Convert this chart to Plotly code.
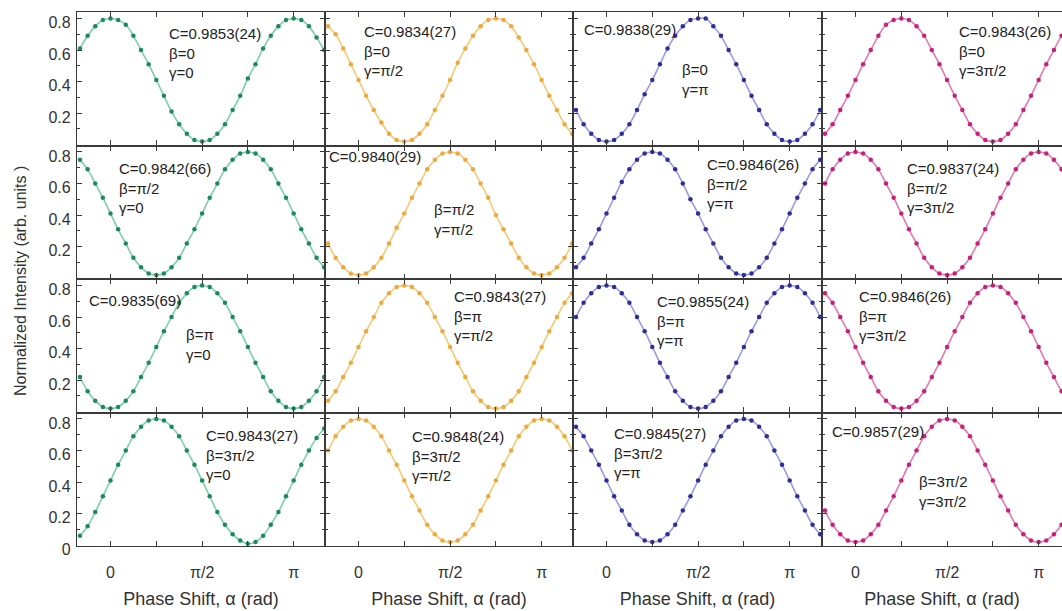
import numpy as np
import plotly.graph_objects as go

# ---------------- data ----------------
alpha_deg = [-30, -22.5, -15, -7.5, 0, 7.5, 15, 22.5, 30, 37.5, 45, 52.5, 60, 67.5, 75, 82.5,
             90, 97.5, 105, 112.5, 120, 127.5, 135, 142.5, 150, 157.5, 165, 172.5, 180,
             187.5, 195, 202.5, 210]

beta_labels = ["0", "π/2", "π", "3π/2"]      # rows
gamma_labels = ["0", "π/2", "π", "3π/2"]     # columns

contrast = [
    ["0.9853(24)", "0.9834(27)", "0.9838(29)", "0.9843(26)"],
    ["0.9842(66)", "0.9840(29)", "0.9846(26)", "0.9837(24)"],
    ["0.9835(69)", "0.9843(27)", "0.9855(24)", "0.9846(26)"],
    ["0.9843(27)", "0.9848(24)", "0.9845(27)", "0.9857(29)"],
]

r1c1 = [0.61, 0.69, 0.75, 0.79, 0.80, 0.79, 0.76, 0.69, 0.60, 0.51, 0.41, 0.31, 0.21, 0.13, 0.07, 0.03, 0.02,
        0.03, 0.07, 0.13, 0.22, 0.31, 0.42, 0.51, 0.61, 0.69, 0.75, 0.79, 0.80, 0.79, 0.75, 0.68, 0.60]
r1c2 = [0.75, 0.70, 0.61, 0.51, 0.41, 0.31, 0.22, 0.14, 0.07, 0.03, 0.02, 0.03, 0.07, 0.13, 0.22, 0.31, 0.41,
        0.52, 0.61, 0.69, 0.75, 0.79, 0.80, 0.79, 0.75, 0.68, 0.60, 0.51, 0.41, 0.31, 0.22, 0.13, 0.07]
r1c3 = [0.22, 0.13, 0.07, 0.03, 0.02, 0.03, 0.07, 0.13, 0.22, 0.32, 0.41, 0.51, 0.61, 0.69, 0.75, 0.79, 0.80,
        0.80, 0.75, 0.69, 0.60, 0.51, 0.41, 0.31, 0.22, 0.13, 0.07, 0.03, 0.02, 0.03, 0.07, 0.13, 0.22]
r1c4 = [0.07, 0.13, 0.22, 0.31, 0.41, 0.51, 0.60, 0.69, 0.76, 0.79, 0.80, 0.79, 0.75, 0.69, 0.60, 0.51, 0.41,
        0.31, 0.22, 0.13, 0.07, 0.03, 0.02, 0.03, 0.07, 0.13, 0.22, 0.31, 0.41, 0.51, 0.60, 0.69, 0.75]

r2c1 = [0.75, 0.69, 0.60, 0.51, 0.41, 0.31, 0.22, 0.13, 0.07, 0.03, 0.02, 0.03, 0.07, 0.13, 0.22, 0.31, 0.41,
        0.51, 0.60, 0.69, 0.75, 0.79, 0.80, 0.79, 0.75, 0.69, 0.60, 0.51, 0.41, 0.31, 0.22, 0.13, 0.07]
r2c2 = [0.22, 0.13, 0.07, 0.03, 0.02, 0.03, 0.07, 0.13, 0.22, 0.32, 0.41, 0.51, 0.60, 0.69, 0.75, 0.79, 0.80,
        0.79, 0.75, 0.69, 0.60, 0.51, 0.40, 0.31, 0.22, 0.13, 0.07, 0.03, 0.02, 0.03, 0.07, 0.13, 0.22]
r2c3 = [0.07, 0.13, 0.22, 0.31, 0.41, 0.51, 0.61, 0.69, 0.75, 0.79, 0.80, 0.79, 0.75, 0.69, 0.60, 0.50, 0.41,
        0.31, 0.22, 0.13, 0.07, 0.03, 0.02, 0.03, 0.07, 0.13, 0.22, 0.31, 0.41, 0.51, 0.60, 0.69, 0.75]
r2c4 = [0.60, 0.69, 0.75, 0.79, 0.80, 0.79, 0.75, 0.69, 0.60, 0.51, 0.41, 0.31, 0.22, 0.13, 0.07, 0.03, 0.02,
        0.03, 0.07, 0.13, 0.22, 0.31, 0.41, 0.51, 0.60, 0.69, 0.75, 0.79, 0.80, 0.79, 0.75, 0.69, 0.60]

r3c1 = [0.22, 0.13, 0.07, 0.03, 0.02, 0.03, 0.07, 0.13, 0.22, 0.31, 0.41, 0.51, 0.60, 0.69, 0.75, 0.79, 0.80,
        0.79, 0.75, 0.69, 0.60, 0.51, 0.41, 0.31, 0.22, 0.13, 0.07, 0.03, 0.02, 0.03, 0.07, 0.13, 0.22]
r3c2 = [0.07, 0.13, 0.22, 0.31, 0.41, 0.51, 0.60, 0.69, 0.75, 0.79, 0.80, 0.79, 0.75, 0.69, 0.60, 0.51, 0.41,
        0.31, 0.22, 0.13, 0.07, 0.03, 0.02, 0.03, 0.07, 0.13, 0.22, 0.31, 0.41, 0.51, 0.60, 0.69, 0.75]
r3c3 = [0.60, 0.69, 0.75, 0.79, 0.80, 0.79, 0.75, 0.69, 0.60, 0.51, 0.41, 0.31, 0.22, 0.13, 0.07, 0.03, 0.02,
        0.03, 0.07, 0.13, 0.22, 0.31, 0.41, 0.51, 0.60, 0.69, 0.75, 0.79, 0.80, 0.79, 0.75, 0.69, 0.60]
r3c4 = [0.75, 0.69, 0.60, 0.51, 0.41, 0.31, 0.22, 0.13, 0.07, 0.03, 0.02, 0.03, 0.07, 0.13, 0.22, 0.31, 0.41,
        0.51, 0.60, 0.69, 0.75, 0.79, 0.80, 0.79, 0.75, 0.69, 0.60, 0.51, 0.41, 0.31, 0.22, 0.13, 0.07]

r4c1 = [0.06, 0.12, 0.21, 0.31, 0.41, 0.51, 0.60, 0.69, 0.75, 0.79, 0.80, 0.79, 0.75, 0.69, 0.60, 0.51, 0.41,
        0.31, 0.21, 0.13, 0.07, 0.03, 0.01, 0.02, 0.06, 0.13, 0.21, 0.31, 0.41, 0.51, 0.60, 0.68, 0.74]
r4c2 = [0.60, 0.69, 0.75, 0.79, 0.80, 0.79, 0.75, 0.69, 0.60, 0.51, 0.41, 0.31, 0.22, 0.13, 0.07, 0.03, 0.02,
        0.03, 0.07, 0.13, 0.22, 0.31, 0.41, 0.51, 0.60, 0.69, 0.75, 0.79, 0.80, 0.79, 0.75, 0.69, 0.60]
r4c3 = [0.75, 0.69, 0.60, 0.51, 0.41, 0.31, 0.22, 0.13, 0.07, 0.03, 0.02, 0.03, 0.07, 0.13, 0.22, 0.31, 0.41,
        0.51, 0.60, 0.69, 0.75, 0.79, 0.80, 0.79, 0.75, 0.69, 0.60, 0.51, 0.41, 0.31, 0.22, 0.13, 0.07]
r4c4 = [0.22, 0.13, 0.07, 0.03, 0.02, 0.03, 0.07, 0.13, 0.22, 0.31, 0.41, 0.51, 0.60, 0.69, 0.75, 0.79, 0.80,
        0.79, 0.75, 0.69, 0.60, 0.51, 0.41, 0.31, 0.22, 0.13, 0.07, 0.03, 0.02, 0.03, 0.07, 0.13, 0.22]

intensity = [
    [r1c1, r1c2, r1c3, r1c4],
    [r2c1, r2c2, r2c3, r2c4],
    [r3c1, r3c2, r3c3, r3c4],
    [r4c1, r4c2, r4c3, r4c4],
]

x_tick_deg = [0, 45, 90, 135, 180]
x_tick_text = ["0", "", "π/2", "", "π"]
y_tick_vals = [0, 0.2, 0.4, 0.6, 0.8]
y_tick_text_bottom = ["0", "0.2", "0.4", "0.6", "0.8"]
y_tick_text_upper = ["", "0.2", "0.4", "0.6", "0.8"]
y_minor_vals = [0.1, 0.3, 0.5, 0.7]

x_title = "Phase Shift, α (rad)"
y_title = "Normalized Intensity (arb. units )"

# ---------------- styling ----------------
line_colors = ["#7fcfa8", "#f8c878", "#9b9be0", "#e27ab2"]
marker_colors = ["#1b8a5c", "#eea93a", "#2e2e9a", "#c8207a"]

W, H = 1062, 611
ML, MT, MB, MR = 77, 12, 65, 0
col_px = [(77, 325), (325, 573), (573, 822), (822, 1062)]
row_px = [(12, 145.5), (145.5, 279), (279, 412.5), (412.5, 546)]
zero_off = 33.5          # pixel offset of alpha=0 from panel left edge
px_per_rad = 58.3
y_range = [-0.005, 0.841]

pw = W - ML - MR
ph = H - MT - MB


def px2paper(px, py):
    return (px - ML) / pw, 1 - (py - MT) / ph


alpha_rad = np.radians(alpha_deg)
x_tick_vals = list(np.radians(x_tick_deg))

fig = go.Figure()
layout = dict()
annotations = []
FONT = "Liberation Sans, Arial, sans-serif"
AX_COL = "#3a3a3a"
TXT_COL = "#222"

# annotation offsets (px from panel top-left): main block and optional beta/gamma block
ann_main = [
    [(89.7, 10.7), (36.7, 9.3), (8.7, 7.3), (134.7, 9.0)],
    [(40.3, 12.2), (1.7, 0.5), (132.0, 8.8), (83.0, 12.2)],
    [(10.3, 11.3), (126.7, 7.0), (82.0, 12.0), (34.7, 7.0)],
    [(127.0, 12.5), (85.0, 13.5), (38.7, 10.2), (8.0, 8.5)],
]
ann_split = {(0, 2): (107.0, 47.3), (1, 1): (106.7, 53.8), (2, 0): (107.0, 45.3), (3, 3): (94.7, 58.5)}

for r in range(4):
    for c in range(4):
        idx = r * 4 + c + 1
        sx = "" if idx == 1 else str(idx)
        x0, x1 = col_px[c]
        y0, y1 = row_px[r]
        fig.add_trace(go.Scatter(
            x=alpha_rad, y=intensity[r][c], mode="lines+markers",
            line=dict(color=line_colors[c], width=1.6, shape="spline", smoothing=1.0),
            marker=dict(color=marker_colors[c], size=4.5),
            xaxis="x" + sx, yaxis="y" + sx, showlegend=False, cliponaxis=True,
            name=f"β={beta_labels[r]}, γ={gamma_labels[c]}",
        ))
        xr = [-zero_off / px_per_rad, (x1 - x0 - zero_off) / px_per_rad]
        dx0, _ = px2paper(x0, 0)
        dx1, _ = px2paper(x1, 0)
        _, dy1 = px2paper(0, y0)
        _, dy0 = px2paper(0, y1)
        xa = dict(
            domain=[max(0, dx0), min(1, dx1)], range=xr, anchor="y" + sx,
            tickmode="array", tickvals=x_tick_vals,
            ticktext=x_tick_text if r == 3 else [""] * 5,
            showticklabels=(r == 3),
            ticks="inside", ticklen=5, tickwidth=1.2, tickcolor=AX_COL,
            showline=True, linecolor=AX_COL, linewidth=1.3, mirror="ticks",
            showgrid=False, zeroline=False,
            tickfont=dict(family=FONT, size=16, color="#333"),
        )
        if r == 3:
            xa["ticklabelstandoff"] = 12
            xa["title"] = dict(text=x_title, font=dict(family=FONT, size=18, color="#333"), standoff=12)
        ya = dict(
            domain=[max(0, dy0), min(1, dy1)], range=y_range, anchor="x" + sx,
            tickmode="array", tickvals=y_tick_vals,
            ticktext=y_tick_text_bottom if r == 3 else y_tick_text_upper,
            showticklabels=(c == 0),
            ticks="inside", ticklen=5, tickwidth=1.2, tickcolor=AX_COL,
            minor=dict(tickmode="array", tickvals=y_minor_vals, ticks="inside", ticklen=3,
                       tickcolor=AX_COL, tickwidth=1),
            showline=True, linecolor=AX_COL, linewidth=1.3,
            mirror=("ticks" if c < 3 else False),
            showgrid=False, zeroline=False,
            tickfont=dict(family=FONT, size=16, color="#333"),
            ticklabelshift=4, ticklabelstandoff=2,
        )
        layout["xaxis" + sx] = xa
        layout["yaxis" + sx] = ya

        # text annotations
        mx, my = ann_main[r][c]
        ax_, ay_ = px2paper(x0 + mx, y0 + my)
        if (r, c) in ann_split:
            txt = f"C={contrast[r][c]}"
            bx, by = ann_split[(r, c)]
            bx_, by_ = px2paper(x0 + bx, y0 + by)
            annotations.append(dict(x=bx_, y=by_, xref="paper", yref="paper",
                                    text=f"β={beta_labels[r]}<br>γ={gamma_labels[c]}",
                                    showarrow=False, xanchor="left", yanchor="top", align="left",
                                    font=dict(family=FONT, size=15, color=TXT_COL)))
        else:
            txt = f"C={contrast[r][c]}<br>β={beta_labels[r]}<br>γ={gamma_labels[c]}"
        annotations.append(dict(x=ax_, y=ay_, xref="paper", yref="paper", text=txt,
                                showarrow=False, xanchor="left", yanchor="top", align="left",
                                font=dict(family=FONT, size=15, color=TXT_COL)))

# y-axis title (shared)
tx, ty = px2paper(20, 281)
annotations.append(dict(x=tx, y=ty, xref="paper", yref="paper", text=y_title, textangle=-90,
                        showarrow=False, xanchor="center", yanchor="middle",
                        font=dict(family=FONT, size=16, color="#333")))

fig.update_layout(
    width=W, height=H, margin=dict(l=ML, r=MR, t=MT, b=MB, autoexpand=False),
    plot_bgcolor="white", paper_bgcolor="white", template="none",
    annotations=annotations, **layout,
)

fig.write_html(
    "out.html",
    config={"displayModeBar": False},
    post_script="document.body.style.margin='0';document.body.style.overflow='hidden';",
)
